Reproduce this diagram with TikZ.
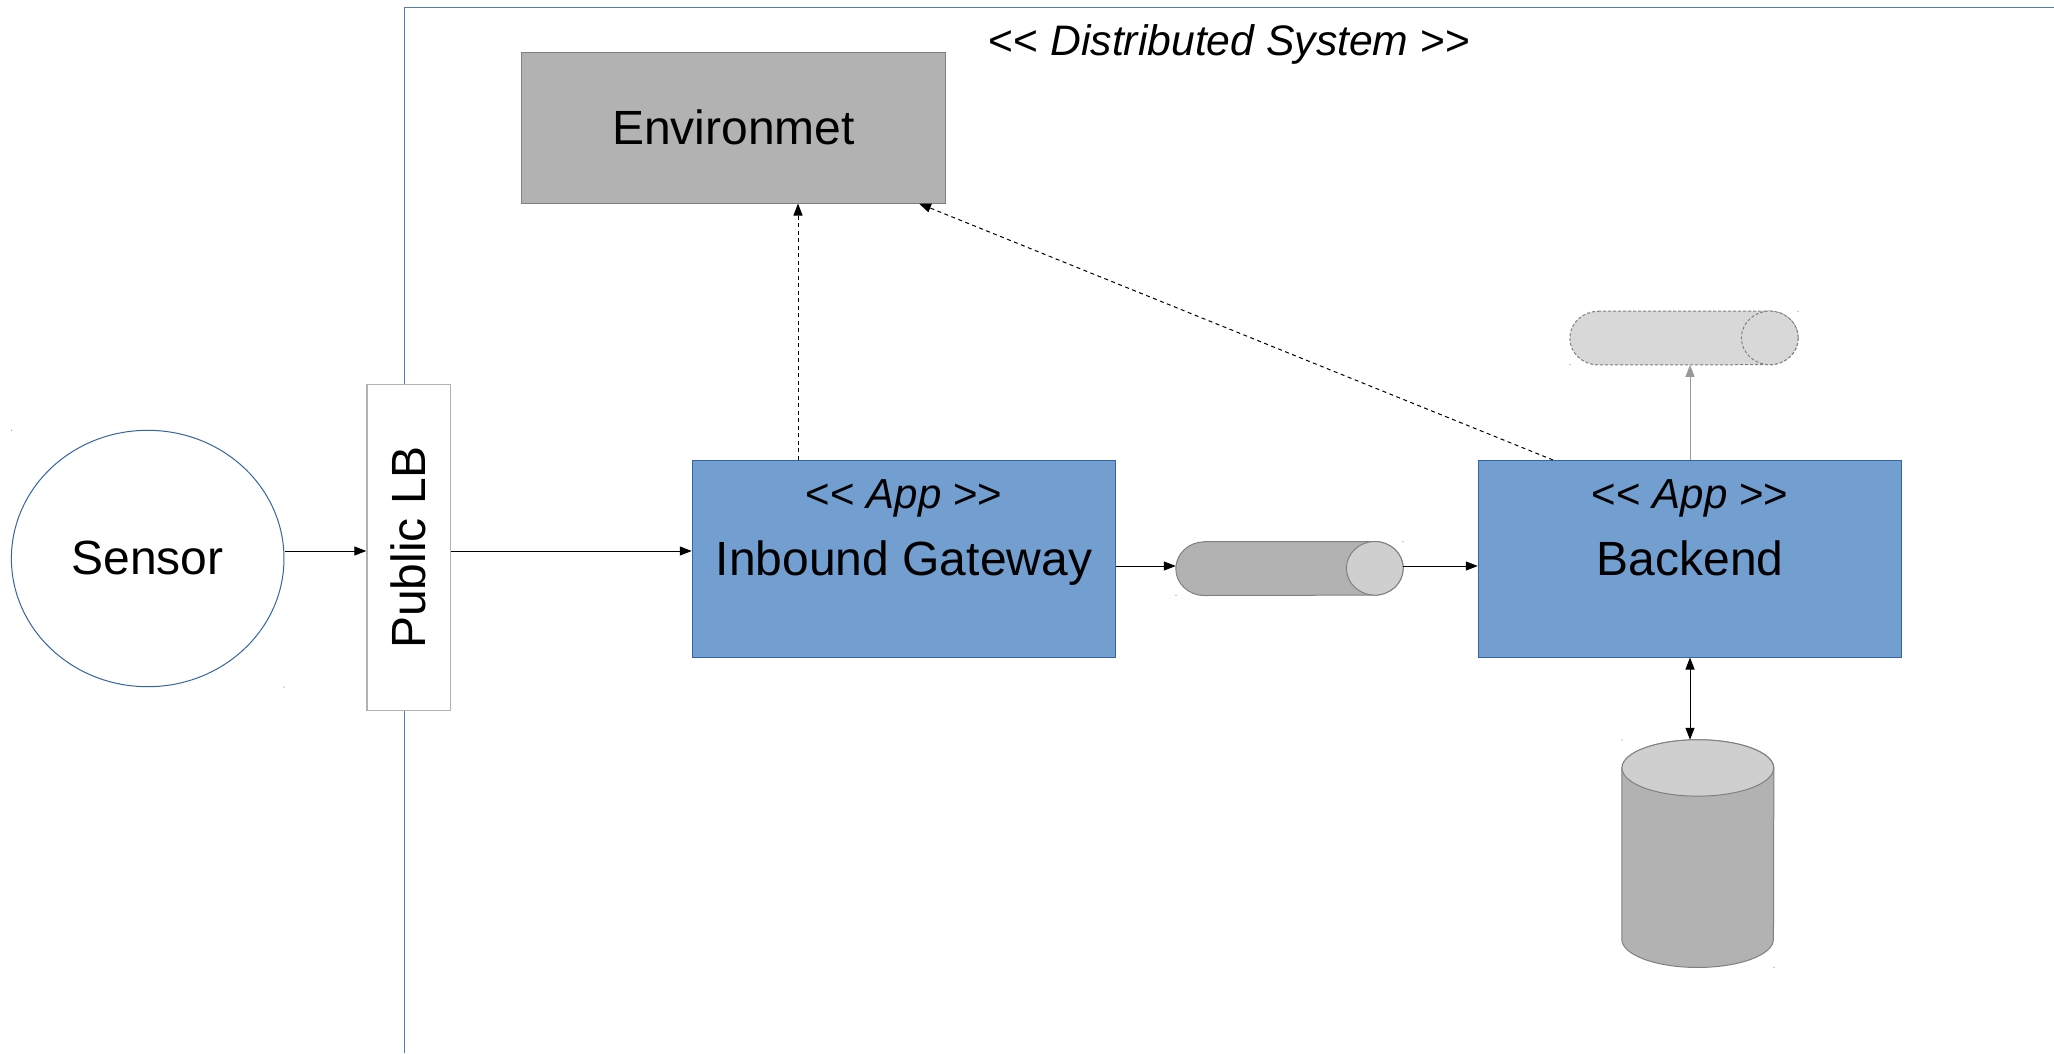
\documentclass[tikz,border=0pt]{standalone}
\usepackage{fontspec}
\setmainfont{Liberation Sans}
\usetikzlibrary{arrows.meta,shapes.geometric}
\definecolor{frameblue}{HTML}{3465A4}
\definecolor{appblue}{HTML}{729FCF}
\definecolor{midgray}{HTML}{B2B2B2}
\definecolor{endgray}{HTML}{CFCFCF}
\definecolor{palegray}{HTML}{D8D8D8}
\definecolor{edgegray}{HTML}{808080}
\definecolor{arrowgray}{HTML}{999999}
\tikzset{
  big/.style={font=\fontsize{48}{56}\selectfont, inner sep=0pt},
  small/.style={font=\fontsize{42.67}{50}\selectfont, inner sep=0pt},
  smaller/.style={font=\fontsize{42}{50}\selectfont, inner sep=0pt},
  box/.style={rectangle, inner sep=0pt, line width=1pt},
  appbox/.style={box, draw=frameblue, fill=appblue, minimum width=423.5pt, minimum height=197pt},
  envbox/.style={box, draw=edgegray, fill=midgray, minimum width=424pt, minimum height=151pt},
  lbbox/.style={box, draw=midgray, fill=white, line width=1.3pt, minimum width=83.5pt, minimum height=325.5pt},
  sensorshape/.style={ellipse, inner sep=0pt, draw=frameblue, line width=1pt, fill=white, minimum width=272.6pt, minimum height=256.4pt},
  anchorbox/.style={rectangle, inner sep=0pt},
  arr/.style={-{Triangle[length=12pt,width=9pt]}, line width=1pt, draw=black},
  dasharr/.style={arr, line width=1pt, dash pattern=on 4pt off 3.5pt},
  grayarr/.style={-{Triangle[length=12pt,width=9pt]}, line width=1pt, draw=arrowgray, arrowgray},
  bothway/.style={{Triangle[length=12pt,width=9pt]}-{Triangle[length=12pt,width=9pt]}, line width=1pt, draw=black},
  speck/.style={fill=edgegray, draw=none},
}
\newcommand{\queueshape}[5]{% node, fill, end fill, edge, dash
  \path[fill=#2] ([xshift=28.4pt]#1.north west) -- ([xshift=-28.4pt]#1.north east)
     arc[start angle=90,end angle=-90,x radius=28.4pt,y radius=26.8pt]
     -- ([xshift=28.4pt]#1.south west)
     arc[start angle=270,end angle=90,x radius=28.4pt,y radius=26.8pt] -- cycle;
  \draw[draw=#4,line width=1pt,#5] ([xshift=28.4pt]#1.north west) -- ([xshift=-28.4pt]#1.north east)
     arc[start angle=90,end angle=-90,x radius=28.4pt,y radius=26.8pt]
     -- ([xshift=28.4pt]#1.south west)
     arc[start angle=270,end angle=90,x radius=28.4pt,y radius=26.8pt] -- cycle;
  \draw[draw=#4,fill=#3,line width=1pt,#5] ([xshift=-28.4pt,yshift=-26.8pt]#1.north east)
     ellipse[x radius=28.4pt,y radius=26.8pt];
}
\begin{document}
\begin{tikzpicture}[x=1pt,y=-1pt]
\useasboundingbox (0,0) rectangle (2054,1053);
\fill[white] (0,0) rectangle (2054,1053);

% frame of the distributed system
\coordinate (fb) at (404.5,1053);
\coordinate (ftl) at (404.5,7);
\coordinate (ftr) at (2054,7);
\draw[frameblue!85!white,line width=1pt] (fb) -- (ftl) -- (ftr);
\node[small] (title) at (1229.5,44) {<{}< \textit{Distributed System} >{}>};

% nodes
\node[sensorshape] (sensor) at (147.7,558.5) {};
\node[big] (sensortext) at (147.5,558) {Sensor};
\node[lbbox] (lb) at (408.7,547.4) {};
\node[big,rotate=90] (lbtext) at (408.5,547.4) {Public LB};
\node[envbox] (env) at (733.8,127.5) {};
\node[big] (envtext) at (733.6,127.5) {Environmet};
\node[appbox] (gw) at (904,558.5) {};
\node[smaller] (gwapp) at (904,498) {<{}< \textit{App} >{}>};
\node[big] (gwtext) at (904,563) {Inbound Gateway};
\node[appbox] (be) at (1690,558.5) {};
\node[smaller] (beapp) at (1690,498) {<{}< \textit{App} >{}>};
\node[big] (betext) at (1690,558.5) {Backend};

% queues and database
\node[anchorbox,minimum width=227pt,minimum height=53.6pt] (queue) at (1289.5,568.5) {};
\queueshape{queue}{midgray}{endgray}{edgegray}{solid}
\node[anchorbox,minimum width=228pt,minimum height=53.4pt] (dlq) at (1684,338) {};
\queueshape{dlq}{palegray}{palegray}{edgegray}{dash pattern=on 3pt off 2pt}
\node[anchorbox,minimum width=151.7pt,minimum height=227.3pt] (db) at (1697.8,853.6) {};
\draw[draw=edgegray,fill=midgray,line width=1pt]
  ([yshift=-28.2pt]db.north west) -- ([yshift=28.2pt]db.south west)
  arc[start angle=180,end angle=360,x radius=75.85pt,y radius=28.2pt]
  -- ([yshift=-28.2pt]db.north east)
  arc[start angle=0,end angle=180,x radius=75.85pt,y radius=28.2pt] -- cycle;
\draw[draw=edgegray,fill=endgray,line width=1pt]
  ([yshift=-28.2pt]db.north) ellipse[x radius=75.85pt,y radius=28.2pt];

% connectors
\coordinate (rowa) at (0,551);
\coordinate (rowb) at (0,566);
\coordinate (colgw) at (798,0);
\coordinate (colbe) at (1690,0);
\coordinate (dashstart) at (1553,460);
\coordinate (dashend) at (919,203.5);
\draw[arr] (sensor.east |- rowa) -- (lb.west |- rowa);
\draw[arr] (lb.east |- rowa) -- (gw.west |- rowa);
\draw[arr] (gw.east |- rowb) -- (queue.west |- rowb);
\draw[arr] (queue.east |- rowb) -- (be.west |- rowb);
\draw[dasharr] (colgw |- gw.north) -- (colgw |- env.south);
\draw[dasharr] (dashstart) -- (dashend);
\draw[grayarr] (colbe |- be.north) -- (colbe |- dlq.south);
\draw[bothway] (colbe |- be.south) -- (colbe |- db.north);

% tiny corner marks
\foreach \p in {(11.3,430.3),(284,687),(1403,541.7),(1176,595.3),(1798,311.3),(1570,364.7),(1622,740),(1774,967.3)}
  \fill[speck] \p circle[radius=0.6pt];
\end{tikzpicture}
\end{document}
